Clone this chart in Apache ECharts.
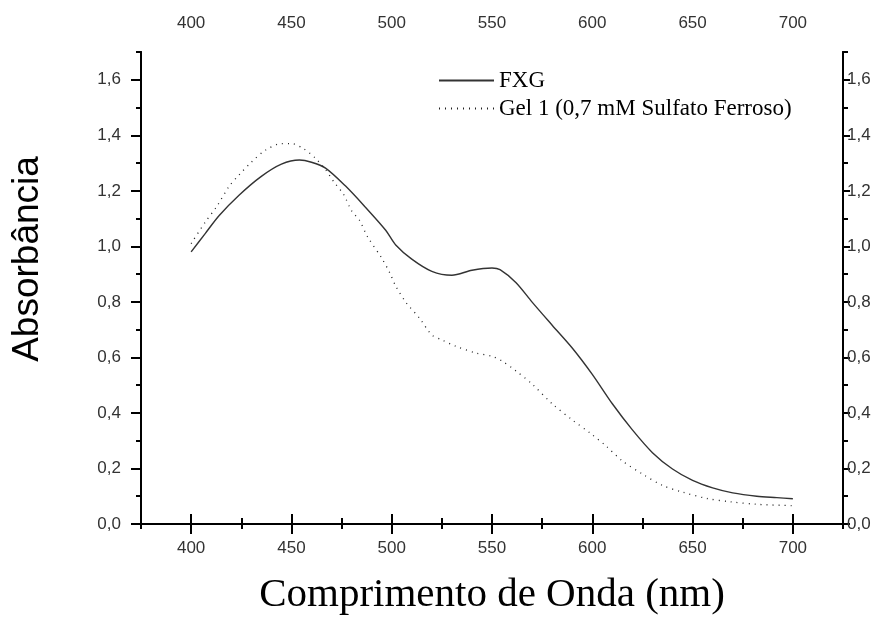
<!DOCTYPE html>
<html>
<head>
<meta charset="utf-8">
<script src="https://cdn.jsdelivr.net/npm/echarts@6/dist/echarts.min.js"></script>
<style>
  html, body { margin: 0; padding: 0; background: #fff; }
  #chart { width: 882px; height: 621px; }
</style>
</head>
<body>
<div id="chart"></div>
<script>
// comprimento de onda (nm) e absorbância
var fxgNm = [400, 407, 414, 424, 435, 445, 454, 460, 467, 477, 487, 497, 502, 510, 520, 530, 540, 550, 554, 562, 570, 580, 590, 600, 610, 620, 630, 640, 650, 660, 670, 682, 692, 700];
var fxgAbs = [0.98, 1.046, 1.111, 1.185, 1.252, 1.296, 1.311, 1.303, 1.282, 1.217, 1.140, 1.058, 1.005, 0.954, 0.910, 0.896, 0.914, 0.922, 0.916, 0.869, 0.799, 0.716, 0.634, 0.539, 0.433, 0.339, 0.257, 0.198, 0.157, 0.130, 0.112, 0.100, 0.095, 0.091];

var gelNm = [400, 407, 413, 419, 424, 430, 437, 445, 450, 456, 462, 467, 471, 476, 480, 484, 488, 495, 499, 502, 507, 514, 520, 525, 532, 542, 550, 555, 562, 570, 580, 590, 599, 607, 615, 625, 635, 645, 657, 669, 682, 700];
var gelAbs = [1.01, 1.087, 1.146, 1.217, 1.258, 1.303, 1.346, 1.370, 1.370, 1.352, 1.317, 1.276, 1.234, 1.187, 1.128, 1.093, 1.034, 0.958, 0.905, 0.857, 0.799, 0.740, 0.681, 0.663, 0.640, 0.616, 0.604, 0.587, 0.551, 0.504, 0.433, 0.375, 0.327, 0.280, 0.227, 0.180, 0.139, 0.115, 0.092, 0.080, 0.071, 0.066];

var xMajor = [400, 450, 500, 550, 600, 650, 700];
var xMinor = [375, 425, 475, 525, 575, 625, 675, 725];
var yMajor = [0, 0.2, 0.4, 0.6, 0.8, 1.0, 1.2, 1.4, 1.6];
var yMinor = [0.1, 0.3, 0.5, 0.7, 0.9, 1.1, 1.3, 1.5, 1.7];

var seriesNames = ['FXG', 'Gel 1 (0,7 mM Sulfato Ferroso)'];

var pairs = function(xs, ys) {
    var res = [];
    for (var i = 0; i < xs.length; i++) {
        res.push([xs[i], ys[i]]);
    }
    return res;
};

var axisLine = { show: true, lineStyle: { color: '#000', width: 2 } };
var labelFont = { fontFamily: 'Liberation Sans', fontSize: 17, color: '#333' };

var xAxisBase = function(pos, ticks, len, labels, margin) {
    return {
        type: 'value', gridIndex: 0, position: pos,
        min: 375, max: 725,
        axisLine: axisLine,
        splitLine: { show: false },
        axisTick: { show: true, customValues: ticks, length: len, lineStyle: { color: '#000', width: 2 } },
        axisLabel: labels ? Object.assign({ show: true, customValues: ticks, margin: margin }, labelFont) : { show: false }
    };
};

var yAxisBase = function(pos, ticks, len, labels, margin) {
    return {
        type: 'value', gridIndex: 0, position: pos,
        min: 0, max: 1.7,
        axisLine: axisLine,
        splitLine: { show: false },
        axisTick: { show: true, customValues: ticks, length: len, lineStyle: { color: '#000', width: 2 } },
        axisLabel: labels ? Object.assign({
            show: true, customValues: ticks, margin: margin,
            formatter: function(v) { return v.toFixed(1).replace('.', ','); }
        }, labelFont) : { show: false }
    };
};

var xBottom = xAxisBase('bottom', xMajor, 10, true, 16);
xBottom.name = 'Comprimento de Onda (nm)';
xBottom.nameLocation = 'middle';
xBottom.nameGap = 51;
xBottom.nameTextStyle = { fontFamily: 'Liberation Serif', fontSize: 41, color: '#000' };

var yLeft = yAxisBase('left', yMajor, 10, true, 20);
yLeft.name = 'Absorbância';
yLeft.nameLocation = 'middle';
yLeft.nameGap = 95;
// o título do eixo fica um pouco acima do meio
yLeft.nameTextStyle = { fontFamily: 'Liberation Sans', fontSize: 37, color: '#000', padding: [0, 0, 0, 58] };

var option = {
    backgroundColor: '#fff',
    animation: false,
    grid: { left: 141, right: 39, top: 52, bottom: 88 },
    legend: {
        orient: 'vertical',
        left: 438, top: 69,
        padding: 0,
        itemWidth: 55, itemHeight: 14, itemGap: 5,
        itemStyle: { color: 'rgba(0,0,0,0)', borderWidth: 0, opacity: 0 },
        textStyle: { fontFamily: 'Liberation Serif', fontSize: 23, color: '#000' },
        data: seriesNames
    },
    xAxis: [
        xBottom,
        xAxisBase('bottom', xMinor, 5, false),
        xAxisBase('top', xMajor, 10, true, 20),
        xAxisBase('top', xMinor, 6, false)
    ],
    yAxis: [
        yLeft,
        yAxisBase('left', yMinor, 5, false),
        yAxisBase('right', yMajor, 7, true, 4),
        yAxisBase('right', yMinor, 5, false)
    ],
    series: [
        {
            name: seriesNames[0],
            type: 'line',
            xAxisIndex: 0, yAxisIndex: 0,
            symbol: 'none',
            smooth: 0.3,
            lineStyle: { color: '#333', width: 1.4, type: 'solid' },
            itemStyle: { color: '#333' },
            data: pairs(fxgNm, fxgAbs)
        },
        {
            name: seriesNames[1],
            type: 'line',
            xAxisIndex: 0, yAxisIndex: 0,
            symbol: 'none',
            smooth: 0.3,
            lineStyle: { color: '#222', width: 1.3, type: [1, 5] },
            itemStyle: { color: '#222' },
            data: pairs(gelNm, gelAbs)
        }
    ]
};

var chart = echarts.init(document.getElementById('chart'));
chart.setOption(option);
</script>
</body>
</html>
